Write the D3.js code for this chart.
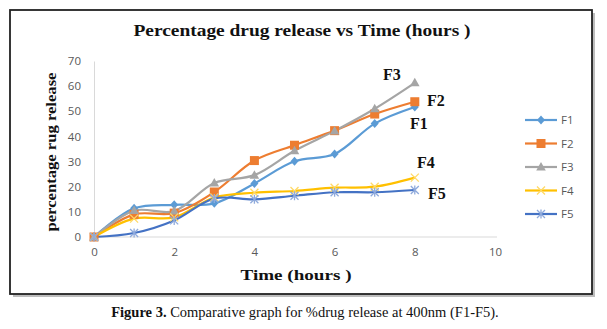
<!DOCTYPE html>
<html lang="en">
<head>
<meta charset="UTF-8">
<title>Percentage drug release vs Time</title>
<script src="https://d3js.org/d3.v7.min.js"></script>
<style>
    body { margin: 0; background: #fff; }
    .tick text { font-family: "Open Sans", "DejaVu Sans", sans-serif; font-size: 11.5px; fill: #595959; }
    .serif { font-family: "Liberation Serif", "Times New Roman", serif; }
</style>
</head>
<body>
<svg width="607" height="329"></svg>
<script>
    // data
    const hours = [0, 1, 2, 3, 4, 5, 6, 7, 8];
    const f1 = [0, 11.4, 12.8, 13.4, 21.3, 30.1, 33.0, 45.1, 51.7];
    const f2 = [0, 9.0, 9.5, 17.9, 30.4, 36.5, 42.3, 48.9, 53.8];
    const f3 = [0, 10.5, 10.3, 21.5, 24.6, 34.3, 42.2, 51.0, 61.3];
    const f4 = [0, 7.3, 7.8, 15.7, 17.6, 18.3, 19.6, 20.0, 23.6];
    const f5 = [0, 1.6, 6.6, 15.3, 15.0, 16.4, 17.8, 17.8, 18.7];
    const seriesNames = ["F1", "F2", "F3", "F4", "F5"];
    const xTicks = [0, 2, 4, 6, 8, 10];
    const yTicks = [0, 10, 20, 30, 40, 50, 60, 70];

    const colors = ["#5B9BD5", "#ED7D31", "#A5A5A5", "#FFC000", "#4472C4"];
    const markerColors = ["#5B9BD5", "#ED7D31", "#A5A5A5", "#FFD966", "#8FAADC"];
    const shapes = ["diamond", "square", "triangle", "x", "star"];
    const allValues = [f1, f2, f3, f4, f5];

    const series = seriesNames.map((name, i) => ({
        name: name,
        color: colors[i],
        mcolor: markerColors[i],
        shape: shapes[i],
        points: hours.map((h, j) => ({ x: h, y: allValues[i][j] }))
    }));

    const svg = d3.select("svg");

    // frame with shadow
    svg.append("rect")
        .attr("x", 13).attr("y", 13).attr("width", 582).attr("height", 284)
        .attr("fill", "#bdbdbd");
    svg.append("rect")
        .attr("x", 10).attr("y", 10).attr("width", 582).attr("height", 284)
        .attr("fill", "#fff").attr("stroke", "#222").attr("stroke-width", 1.8);

    const x = d3.scaleLinear().domain([0, 10]).range([94, 495]);
    const y = d3.scaleLinear().domain([0, 70]).range([237, 61]);

    // axes
    svg.append("g")
        .attr("transform", "translate(0,237)")
        .call(d3.axisBottom(x).tickValues(xTicks).tickSize(0).tickPadding(11))
        .call(g => g.select(".domain").attr("stroke", "#d9d9d9").attr("d", "M94,0H497"));

    svg.append("g")
        .attr("transform", "translate(94,0)")
        .call(d3.axisLeft(y).tickValues(yTicks).tickSize(0).tickPadding(13))
        .call(g => g.select(".domain").attr("stroke", "#d9d9d9"));

    // lines
    const line = d3.line()
        .x(d => x(d.x))
        .y(d => y(d.y))
        .curve(d3.curveCatmullRom.alpha(0.5));

    const plot = svg.append("g");
    series.forEach(s => {
        plot.append("path")
            .attr("d", line(s.points))
            .attr("fill", "none")
            .attr("stroke", s.color)
            .attr("stroke-width", 2.2);
    });

    function drawMarker(g, shape, color, cx, cy) {
        if (shape === "diamond") {
            g.append("path").attr("d", `M${cx},${cy - 4.5}L${cx + 4},${cy}L${cx},${cy + 4.5}L${cx - 4},${cy}Z`).attr("fill", color);
        } else if (shape === "square") {
            g.append("rect").attr("x", cx - 4.5).attr("y", cy - 4.5).attr("width", 9).attr("height", 9).attr("fill", color);
        } else if (shape === "triangle") {
            g.append("path").attr("d", `M${cx},${cy - 5}L${cx + 4.8},${cy + 3.5}L${cx - 4.8},${cy + 3.5}Z`).attr("fill", color);
        } else if (shape === "x") {
            g.append("path").attr("d", `M${cx - 4},${cy - 4}L${cx + 4},${cy + 4}M${cx - 4},${cy + 4}L${cx + 4},${cy - 4}`)
                .attr("stroke", color).attr("stroke-width", 1.3);
        } else {
            g.append("path").attr("d", `M${cx - 4},${cy - 4}L${cx + 4},${cy + 4}M${cx - 4},${cy + 4}L${cx + 4},${cy - 4}M${cx},${cy - 4.5}L${cx},${cy + 4.5}`)
                .attr("stroke", color).attr("stroke-width", 1.3);
        }
    }

    series.forEach(s => {
        const g = plot.append("g");
        s.points.forEach(p => drawMarker(g, s.shape, s.mcolor, x(p.x), y(p.y)));
    });

    // labels next to line ends
    const endLabels = [
        { name: "F3", dx: -23, dy: -3 },
        { name: "F2", dx: 21, dy: 4 },
        { name: "F1", dx: 4, dy: 22 },
        { name: "F4", dx: 11, dy: -10 },
        { name: "F5", dx: 22, dy: 9 }
    ];
    endLabels.forEach(l => {
        const s = series.find(d => d.name === l.name);
        const last = s.points[s.points.length - 1];
        svg.append("text")
            .attr("class", "serif")
            .attr("x", x(last.x) + l.dx)
            .attr("y", y(last.y) + l.dy)
            .attr("text-anchor", "middle")
            .attr("font-size", "16px")
            .attr("font-weight", "bold")
            .attr("fill", "#111")
            .text(l.name);
    });

    // titles
    svg.append("text")
        .attr("class", "serif")
        .attr("x", 302).attr("y", 36)
        .attr("text-anchor", "middle")
        .attr("font-size", "16px").attr("font-weight", "bold")
        .attr("textLength", 337).attr("lengthAdjust", "spacingAndGlyphs")
        .attr("fill", "#111")
        .text("Percentage drug release vs Time (hours )");

    svg.append("text")
        .attr("class", "serif")
        .attr("x", 296).attr("y", 280)
        .attr("text-anchor", "middle")
        .attr("font-size", "15px").attr("font-weight", "bold")
        .attr("textLength", 111).attr("lengthAdjust", "spacingAndGlyphs")
        .attr("fill", "#111")
        .text("Time (hours )");

    svg.append("text")
        .attr("class", "serif")
        .attr("transform", "translate(56,152) rotate(-90)")
        .attr("text-anchor", "middle")
        .attr("font-size", "15.5px").attr("font-weight", "bold")
        .attr("textLength", 159).attr("lengthAdjust", "spacingAndGlyphs")
        .attr("fill", "#111")
        .text("percentage rug release");

    // legend
    const legend = svg.append("g");
    series.forEach((s, i) => {
        const ly = 120 + i * 23.5;
        legend.append("line")
            .attr("x1", 525).attr("x2", 557).attr("y1", ly).attr("y2", ly)
            .attr("stroke", s.color).attr("stroke-width", 2.2);
        drawMarker(legend, s.shape, s.mcolor, 541, ly);
        legend.append("text")
            .attr("x", 561).attr("y", ly + 4)
            .attr("font-family", "'Open Sans', 'DejaVu Sans', sans-serif")
            .attr("font-size", "11.5px")
            .attr("fill", "#595959")
            .text(s.name);
    });

    // caption below the frame
    const cap = svg.append("text")
        .attr("class", "serif")
        .attr("x", 305).attr("y", 317)
        .attr("text-anchor", "middle")
        .attr("font-size", "14.5px")
        .attr("fill", "#111");
    cap.append("tspan").attr("font-weight", "bold").text("Figure 3.");
    cap.append("tspan").text(" Comparative graph for %drug release at 400nm (F1-F5).");
</script>
</body>
</html>
